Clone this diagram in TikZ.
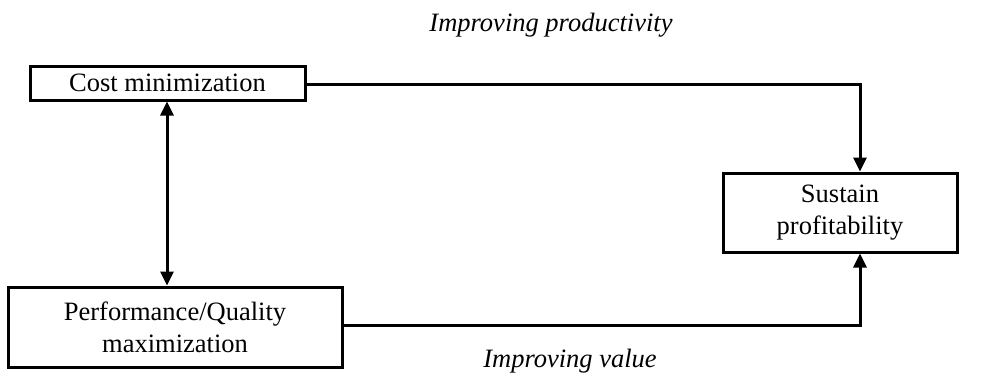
\documentclass[tikz,border=0pt]{standalone}
\usepackage{fontspec}
\setmainfont{Liberation Serif}
\usetikzlibrary{arrows.meta}
\begin{document}
\begin{tikzpicture}[x=1pt,y=-1pt,
  box/.style={draw,line width=3pt,inner sep=0pt,align=center,font=\fontsize{26.5}{32}\selectfont},
  lbl/.style={font=\fontsize{26.5}{32}\selectfont\itshape},
  conn/.style={line width=3pt,-{Triangle[length=14pt,width=13pt]}}]
\useasboundingbox (0,0) rectangle (985,378);
\node[box,minimum width=275,minimum height=34] (cost) at (167.5,83) {Cost minimization};
\node[box,minimum width=334,minimum height=80] (perf) at (175,327) {Performance/Quality\\maximization};
\node[box,minimum width=234,minimum height=79] (sust) at (840,212.5) {Sustain\\profitability};
\node[lbl] (prod) at (551,25) {Improving productivity};
\node[lbl] (val) at (570,361) {Improving value};
\draw[line width=3pt,{Triangle[length=14pt,width=13pt]}-{Triangle[length=14pt,width=13pt]}] (cost.south -| 167,0) -- (perf.north -| 167,0);
\draw[conn] (cost.east |- 0,84) -| ([xshift=20]sust.north);
\draw[conn] (perf.east |- 0,325) -| ([xshift=20]sust.south);
\end{tikzpicture}
\end{document}
